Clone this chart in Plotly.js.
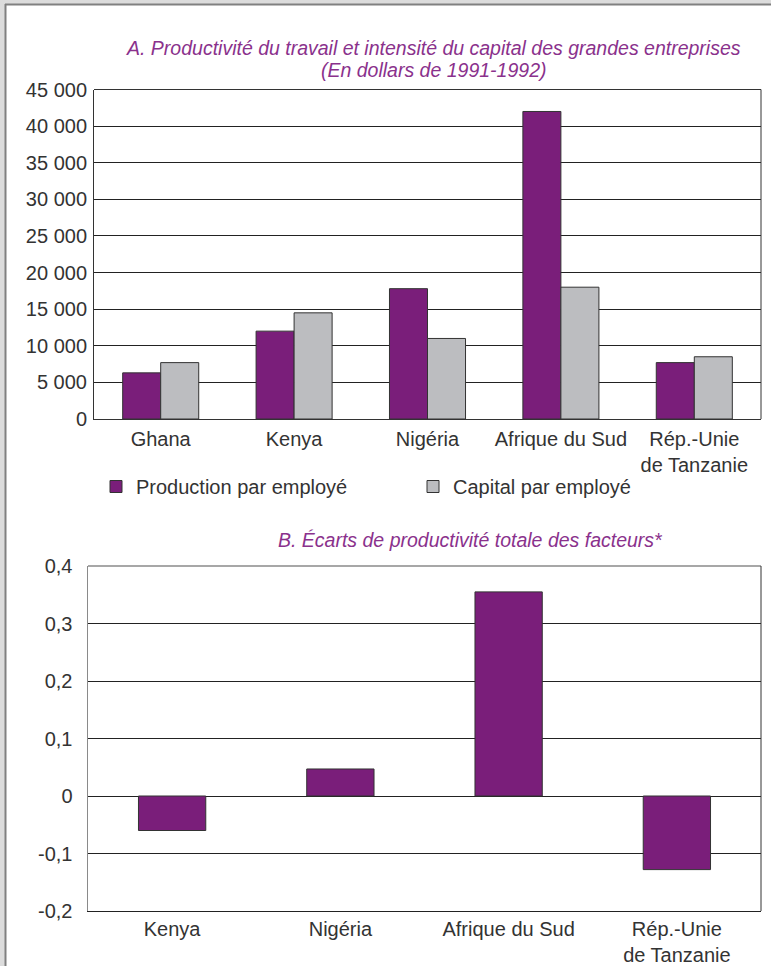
<!DOCTYPE html>
<html>
<head>
<meta charset="utf-8">
<script src="https://cdn.plot.ly/plotly-3.0.1.min.js"></script>
<style>
html,body{margin:0;padding:0;background:#dcdcdc;}
#chart{width:771px;height:966px;}
</style>
</head>
<body>
<div id="chart"></div>
<script>
// ---- Data ----
const categoriesA = ["Ghana", "Kenya", "Nigéria", "Afrique du Sud", "Rép.-Unie<br>de Tanzanie"];
const productionParEmploye = [6300, 12000, 17800, 42000, 7700];
const capitalParEmploye = [7700, 14500, 11000, 18000, 8500];

const categoriesB = ["Kenya", "Nigéria", "Afrique du Sud", "Rép.-Unie<br>de Tanzanie"];
const ecartsPTF = [-0.06, 0.047, 0.355, -0.128];

const tickValsB = [-0.2, -0.1, 0, 0.1, 0.2, 0.3, 0.4];
const tickTextB = ["-0,2", "-0,1", "0", "0,1", "0,2", "0,3", "0,4"];

const titleA1 = "A. Productivité du travail et intensité du capital des grandes entreprises";
const titleA2 = "(En dollars de 1991-1992)";
const titleB = "B. Écarts de productivité totale des facteurs*";

// ---- Geometry helpers (pixel -> paper) ----
const W = 771, H = 966;
const px = v => v / W;
const py = v => 1 - v / H;

const purple = "#7a1e7a";
const grey = "#bcbdc0";
const titleColor = "#8a318c";
const font = "Liberation Sans, Arial, Helvetica, sans-serif";
const txt = "#333333";
const FS = 20;
const TFS = 19.5;

const traces = [
  {type: "bar", x: categoriesA, y: productionParEmploye, name: "Production par employé",
   xaxis: "x", yaxis: "y", marker: {color: purple, line: {color: "#333", width: 1}}, hoverinfo: "y"},
  {type: "bar", x: categoriesA, y: capitalParEmploye, name: "Capital par employé",
   xaxis: "x", yaxis: "y", marker: {color: grey, line: {color: "#333", width: 1}}, hoverinfo: "y"},
  {type: "bar", x: categoriesB, y: ecartsPTF, name: "Écarts PTF", showlegend: false, width: 0.4,
   xaxis: "x2", yaxis: "y2", marker: {color: purple, line: {color: "#333", width: 1}}, hoverinfo: "y"}
];

const layout = {
  width: W, height: H,
  margin: {l: 0, r: 0, t: 0, b: 0, pad: 0},
  paper_bgcolor: "#dcdcdc",
  plot_bgcolor: "rgba(0,0,0,0)",
  separators: ", ",
  font: {family: font, size: FS, color: txt},
  barmode: "group",
  bargap: 0.43,
  bargroupgap: 0,
  showlegend: true,
  legend: {orientation: "h", x: px(96), y: py(467), xanchor: "left", yanchor: "top",
           font: {family: font, size: FS, color: txt}, bgcolor: "rgba(0,0,0,0)",
           entrywidth: 272, entrywidthmode: "pixels", itemwidth: 30, traceorder: "normal"},
  xaxis: {domain: [px(94), px(761)], anchor: "y", type: "category",
          showline: true, linecolor: "#333", linewidth: 1, ticks: "", showgrid: false,
          tickfont: {family: font, size: FS, color: txt}, ticklabelstandoff: 2, fixedrange: true},
  yaxis: {domain: [py(419), py(89.5)], anchor: "x", range: [0, 45000], dtick: 5000, tickformat: ",d",
          showline: true, linecolor: "#333", linewidth: 1, showgrid: true, gridcolor: "#222", gridwidth: 1,
          zeroline: false, ticks: "", tickfont: {family: font, size: FS, color: txt},
          ticklabelstandoff: 2, fixedrange: true},
  xaxis2: {domain: [px(88), px(761)], anchor: "y2", type: "category",
           showline: true, linecolor: "#222", linewidth: 1, ticks: "", showgrid: false,
           tickfont: {family: font, size: FS, color: txt}, ticklabelstandoff: 0, fixedrange: true},
  yaxis2: {domain: [py(911), py(566)], anchor: "x2", range: [-0.2, 0.4],
           tickvals: tickValsB, ticktext: tickTextB,
           showline: true, linecolor: "#8a8a8a", linewidth: 1.5, showgrid: true, gridcolor: "#222", gridwidth: 1,
           zeroline: true, zerolinecolor: "#222", zerolinewidth: 1, ticks: "",
           tickfont: {family: font, size: FS, color: txt}, ticklabelstandoff: 10, fixedrange: true},
  shapes: [
    {type: "rect", xref: "paper", yref: "paper", x0: px(5), x1: 1.01, y0: -0.01, y1: py(4.5),
     fillcolor: "#ffffff", line: {width: 0}, layer: "below"},
    {type: "line", xref: "paper", yref: "paper", x0: px(5.5), x1: px(5.5), y0: -0.01, y1: py(4), line: {color: "#808080", width: 2}},
    {type: "line", xref: "paper", yref: "paper", x0: px(5), x1: 1.01, y0: py(4.5), y1: py(4.5), line: {color: "#808080", width: 2}},
    {type: "line", xref: "paper", yref: "paper", x0: px(94), x1: px(761), y0: py(89.5), y1: py(89.5), line: {color: "#333", width: 1}},
    {type: "line", xref: "paper", yref: "paper", x0: px(761), x1: px(761), y0: py(419), y1: py(89.5), line: {color: "#333", width: 1}},
    {type: "line", xref: "paper", yref: "paper", x0: px(88), x1: px(761), y0: py(566), y1: py(566), line: {color: "#8a8a8a", width: 1.5}},
    {type: "line", xref: "paper", yref: "paper", x0: px(761), x1: px(761), y0: py(911), y1: py(566), line: {color: "#333", width: 1}}
  ],
  annotations: [
    {text: titleA1, xref: "paper", yref: "paper", x: px(433), y: py(48), xanchor: "center", yanchor: "middle",
     showarrow: false, borderpad: 0, font: {family: font, size: TFS, color: titleColor, style: "italic"}},
    {text: titleA2, xref: "paper", yref: "paper", x: px(433), y: py(70), xanchor: "center", yanchor: "middle",
     showarrow: false, borderpad: 0, font: {family: font, size: TFS, color: titleColor, style: "italic"}},
    {text: titleB, xref: "paper", yref: "paper", x: px(470), y: py(540), xanchor: "center", yanchor: "middle",
     showarrow: false, borderpad: 0, font: {family: font, size: TFS, color: titleColor, style: "italic"}}
  ]
};

Plotly.newPlot("chart", traces, layout, {displayModeBar: false, staticPlot: true});
</script>
</body>
</html>
